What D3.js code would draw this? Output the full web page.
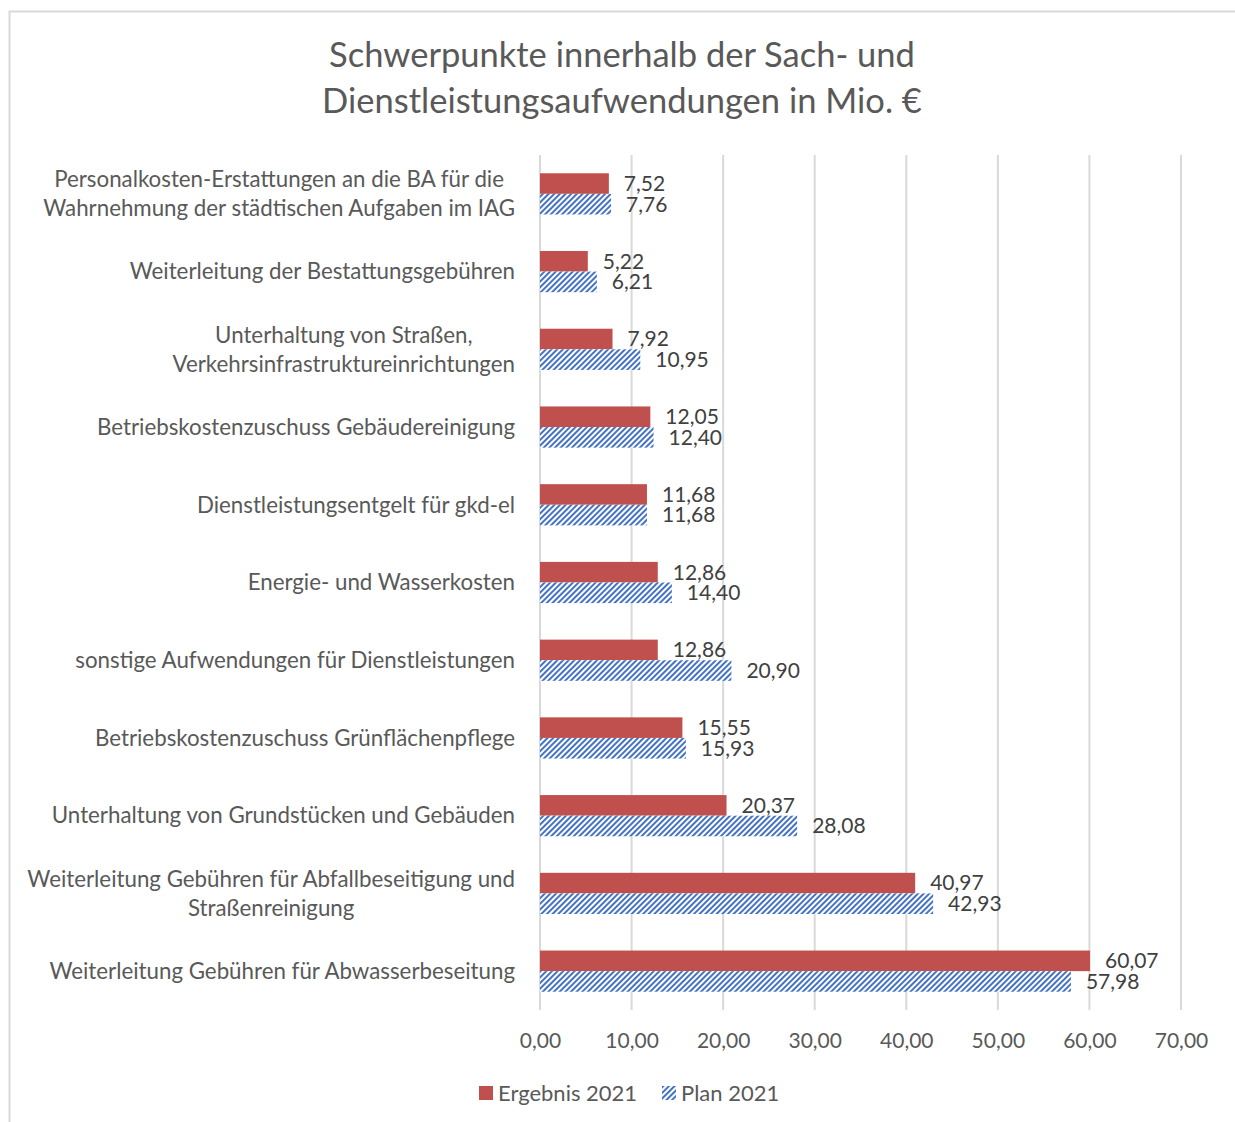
<!DOCTYPE html>
<html>
<head>
<meta charset="utf-8">
<script src="https://cdn.jsdelivr.net/npm/d3@7"></script>
<style>
  html, body { margin: 0; padding: 0; background: #fff; }
  svg { display: block; }
  text { font-family: Lato, "Open Sans", sans-serif; fill: #595959; }
</style>
</head>
<body>
<svg id="chart" width="1235" height="1122"></svg>
<script>
// categories, top to bottom; "\n" splits the label into lines
var categories = [
  "Personalkosten-Erstattungen an die BA für die\nWahrnehmung der städtischen Aufgaben im IAG",
  "Weiterleitung der Bestattungsgebühren",
  "Unterhaltung von Straßen,\nVerkehrsinfrastruktureinrichtungen",
  "Betriebskostenzuschuss Gebäudereinigung",
  "Dienstleistungsentgelt für gkd-el",
  "Energie- und Wasserkosten",
  "sonstige Aufwendungen für Dienstleistungen",
  "Betriebskostenzuschuss Grünflächenpflege",
  "Unterhaltung von Grundstücken und Gebäuden",
  "Weiterleitung Gebühren für Abfallbeseitigung und\nStraßenreinigung",
  "Weiterleitung Gebühren für Abwasserbeseitung"
];
var ergebnis2021 = [7.52, 5.22, 7.92, 12.05, 11.68, 12.86, 12.86, 15.55, 20.37, 40.97, 60.07];
var plan2021     = [7.76, 6.21, 10.95, 12.40, 11.68, 14.40, 20.90, 15.93, 28.08, 42.93, 57.98];
var seriesNames  = ["Ergebnis 2021", "Plan 2021"];
var xTicks = [0, 10, 20, 30, 40, 50, 60, 70];
var titleLines = ["Schwerpunkte innerhalb der Sach- und", "Dienstleistungsaufwendungen in Mio. €"];

var red = "#c0504d", blue = "#4472c4", grid = "#d9d9d9";
var de = d3.formatLocale({ decimal: ",", thousands: ".", grouping: [3], currency: ["", " €"] });
var fmt = de.format(".2f");

var svg = d3.select("#chart");

// hatched fill for the plan series
var defs = svg.append("defs");
var pat = defs.append("pattern")
  .attr("id", "hatch")
  .attr("patternUnits", "userSpaceOnUse")
  .attr("width", 4).attr("height", 4)
  .attr("patternTransform", "rotate(45)");
pat.append("rect").attr("width", 4).attr("height", 4).attr("fill", "#fff");
pat.append("rect").attr("width", 2).attr("height", 4).attr("fill", blue);

// chart area border
svg.append("rect")
  .attr("x", 9.5).attr("y", 11.5)
  .attr("width", 1240).attr("height", 1130)
  .attr("fill", "none").attr("stroke", grid).attr("stroke-width", 2);

// title
svg.selectAll(".title").data(titleLines).enter().append("text")
  .attr("class", "title")
  .attr("x", 622).attr("y", function(d, i) { return 55 + i * 46; })
  .attr("dy", "0.35em")
  .attr("text-anchor", "middle")
  .style("font-size", "34.5px")
  .text(function(d) { return d; });

var x = d3.scaleLinear().domain([0, 70]).range([540, 1181]);
var y = d3.scaleBand().domain(d3.range(categories.length)).range([155, 1010]);
var groupH = y.bandwidth() * 0.53;
var barH = groupH / 2;

// gridlines
svg.append("g").selectAll("line").data(xTicks).enter().append("line")
  .attr("x1", function(d) { return x(d); }).attr("x2", function(d) { return x(d); })
  .attr("y1", 155).attr("y2", 1010)
  .attr("stroke", grid).attr("stroke-width", 2);

// x axis labels
svg.append("g")
  .attr("transform", "translate(0,1030)")
  .call(d3.axisBottom(x).tickValues(xTicks).tickSize(0).tickFormat(fmt))
  .call(function(g) { g.select(".domain").remove(); })
  .call(function(g) {
    g.selectAll("text").style("font-size", "21px").attr("fill", "#595959")
      .style("font-family", "Lato, 'Open Sans', sans-serif");
  });

// category labels: lines centred on each other, block right-aligned at 515
categories.forEach(function(c, i) {
  var lines = c.split("\n");
  var cy = y(i) + y.bandwidth() / 2;
  var t = svg.append("text")
    .attr("text-anchor", "middle")
    .style("font-size", "22.3px");
  var spans = lines.map(function(l, j) {
    return t.append("tspan")
      .attr("y", cy + (j - (lines.length - 1) / 2) * 29)
      .attr("dy", "0.35em")
      .text(l);
  });
  var maxW = d3.max(spans, function(s) { return s.node().getComputedTextLength(); });
  spans.forEach(function(s) { s.attr("x", 515 - maxW / 2); });
});

// bars and value labels
var series = [ergebnis2021, plan2021];
var fills = [red, "url(#hatch)"];
series.forEach(function(vals, s) {
  vals.forEach(function(v, i) {
    var top = y(i) + (y.bandwidth() - groupH) / 2 + s * barH;
    svg.append("rect")
      .attr("x", x(0)).attr("y", top)
      .attr("width", x(v) - x(0)).attr("height", barH)
      .attr("fill", fills[s]);
    svg.append("text")
      .attr("x", x(v) + 15)
      .attr("y", top + barH / 2)
      .attr("dy", "0.35em")
      .style("font-size", "21px")
      .style("fill", "#404040")
      .text(fmt(v));
  });
});

// legend
var legendX = [479, 662];
seriesNames.forEach(function(n, s) {
  svg.append("rect")
    .attr("x", legendX[s]).attr("y", 1086)
    .attr("width", 14).attr("height", 14)
    .attr("fill", fills[s]);
  svg.append("text")
    .attr("x", legendX[s] + 19).attr("y", 1093)
    .attr("dy", "0.35em")
    .style("font-size", "22px")
    .text(n);
});
</script>
</body>
</html>
